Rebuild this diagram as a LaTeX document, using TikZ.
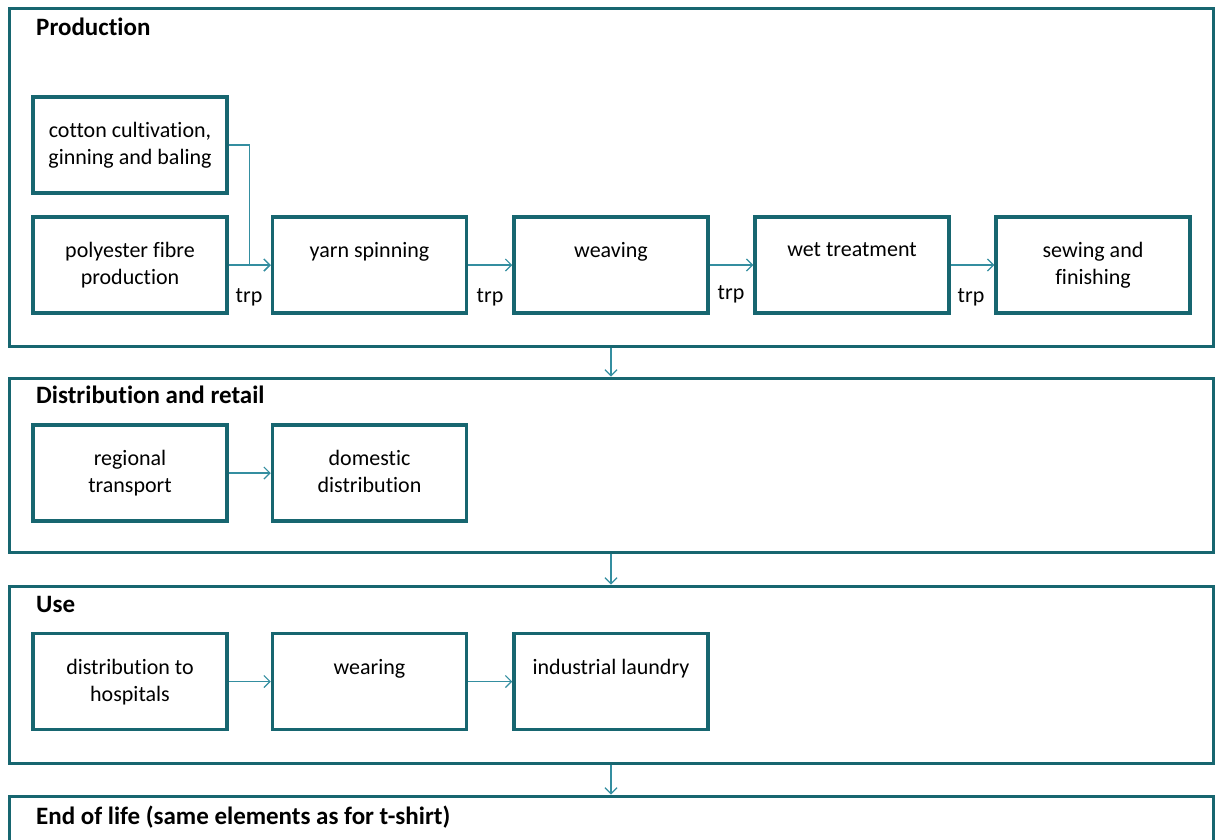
\documentclass[tikz,border=0pt]{standalone}
\usepackage{fontspec}
\setmainfont{Carlito}[Ligatures={NoCommon}]
\usetikzlibrary{arrows.meta,positioning,calc}

\definecolor{boxteal}{RGB}{23,102,112}
\definecolor{flowteal}{RGB}{52,142,160}

\tikzset{
  phase/.style={draw=boxteal, line width=3pt, minimum width=1204pt, inner sep=0pt},
  phasetitle/.style={anchor=base west, inner sep=0pt, font=\fontsize{25}{30}\selectfont\bfseries},
  stage/.style={draw=boxteal, line width=3.5pt, minimum width=194pt, minimum height=96pt, inner sep=0pt},
  stagetext/.style={anchor=north, inner sep=0pt, yshift=-27pt, align=center, font=\fontsize{22}{27}\selectfont},
  trp/.style={inner sep=0pt, font=\fontsize{22}{27}\selectfont},
  flow/.style={draw=flowteal, line width=1.2pt, -{Straight Barb[length=6pt,width=12pt,line width=1.2pt]}}
}

\begin{document}
\begin{tikzpicture}[x=1pt,y=-1pt]
    \useasboundingbox (0,0) rectangle (1216,839);

    % phases
    \node[phase, minimum height=338pt] (prod) at (611,177) {};
    \node[phase, minimum height=174pt] (dist) at (611,465) {};
    \node[phase, minimum height=177pt] (use) at (611,674.5) {};
    \node[phase, minimum height=104pt] (eol) at (611,848) {};

    \node[phasetitle] (prodtitle) at (36,35) {Production};
    \node[phasetitle] (disttitle) at (36,403) {Distribution and retail};
    \node[phasetitle] (usetitle) at (36,612) {Use};
    \node[phasetitle] (eoltitle) at (36,824) {End of life (same elements as for t-shirt)};

    % production
    \node[stage] (cotton) at (130,145) {};
    \node[stage] (polyester) at (130,265) {};
    \node[stage] (yarn) at (369.5,265) {};
    \node[stage] (weaving) at (611,265) {};
    \node[stage] (wet) at (852,265) {};
    \node[stage] (sewing) at (1093,265) {};
    \node[stagetext] at (cotton.north) {cotton cultivation,\\ginning and baling};
    \node[stagetext] at (polyester.north) {polyester fibre\\production};
    \node[stagetext] at (yarn.north) {yarn spinning};
    \node[stagetext] at (weaving.north) {weaving};
    \node[stagetext] at (wet.north) {wet treatment};
    \node[stagetext] at (sewing.north) {sewing and\\finishing};

    \coordinate (join) at (249.5,265);
    \draw[flow] (cotton.east) -| (join) -- (yarn.west);
    \draw[flow] (polyester.east) -- (yarn.west);
    \draw[flow] (yarn.east) -- (weaving.west);
    \draw[flow] (weaving.east) -- (wet.west);
    \draw[flow] (wet.east) -- (sewing.west);

    \node[trp] (trpA) at (249,297) {trp};
    \node[trp] (trpB) at (490,297) {trp};
    \node[trp] (trpC) at (731,294) {trp};
    \node[trp] (trpD) at (971,297) {trp};

    % distribution and retail
    \node[stage] (regional) at (130,473) {};
    \node[stage] (domestic) at (369.5,473) {};
    \node[stagetext] at (regional.north) {regional\\transport};
    \node[stagetext] at (domestic.north) {domestic\\distribution};
    \draw[flow] (regional.east) -- (domestic.west);

    % use
    \node[stage] (hospitals) at (130,681.5) {};
    \node[stage] (wearing) at (369.5,681.5) {};
    \node[stage] (laundry) at (611,681.5) {};
    \node[stagetext] at (hospitals.north) {distribution to\\hospitals};
    \node[stagetext] at (wearing.north) {wearing};
    \node[stagetext] at (laundry.north) {industrial laundry};
    \draw[flow] (hospitals.east) -- (wearing.west);
    \draw[flow] (wearing.east) -- (laundry.west);

    % between phases
    \draw[flow] (prod.south) -- (dist.north);
    \draw[flow] (dist.south) -- (use.north);
    \draw[flow] (use.south) -- (eol.north);
\end{tikzpicture}
\end{document}
